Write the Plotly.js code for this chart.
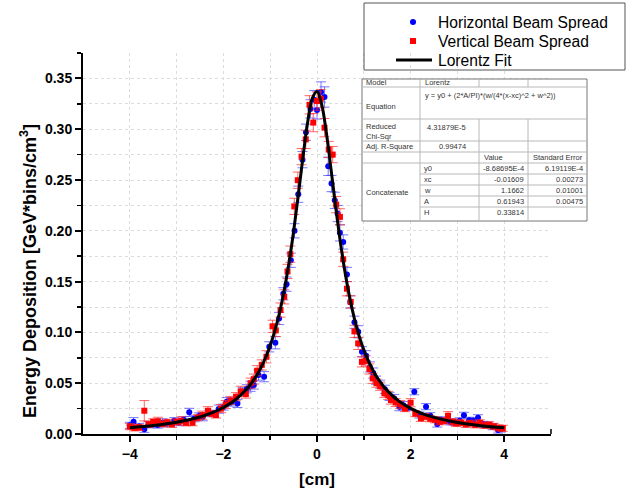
<!DOCTYPE html>
<html><head><meta charset="utf-8">
<script src="https://cdn.plot.ly/plotly-3.0.1.min.js"></script>
<style>body{margin:0;background:#fff}#chart{width:641px;height:496px}</style>
</head><body><div id="chart"></div>
<script>
// ---- Data ----
const hX = [-4.0,-3.92,-3.8,-3.69,-3.6,-3.5,-3.4,-3.3,-3.2,-3.05,-2.95,-2.85,-2.73,-2.62,-2.52,-2.44,-2.3,-2.2,-2.1,-2.0,
  -1.93,-1.82,-1.7,-1.59,-1.5,-1.42,-1.35,-1.25,-1.13,-1.02,-0.89,-0.81,-0.72,-0.65,-0.56,-0.48,-0.40,-0.31,-0.235,-0.14,-0.06,
  0.0,0.086,0.16,0.24,0.31,0.38,0.44,0.49,0.56,0.64,0.71,0.80,0.88,0.96,1.05,1.13,1.20,1.26,1.35,1.45,1.55,1.65,1.76,1.85,1.95,
  2.08,2.19,2.33,2.42,2.57,2.65,2.75,2.85,2.95,3.05,3.14,3.25,3.34,3.44,3.55,3.65,3.75,3.87,3.93];
const hY = [0.0085,0.0121,0.0075,0.0046,0.0090,0.0095,0.0088,0.0110,0.0105,0.0131,0.0112,0.0140,0.0213,0.0150,0.0178,0.0170,0.0205,0.0200,0.0245,0.0265,
  0.0318,0.0315,0.0301,0.0416,0.0445,0.0470,0.0482,0.0580,0.0564,0.0858,0.0898,0.1137,0.1380,0.1475,0.1710,0.2000,0.2360,0.2700,0.2970,0.3200,0.3290,
  0.3190,0.3366,0.3317,0.2635,0.2465,0.2300,0.2170,0.1980,0.1890,0.1570,0.1300,0.1100,0.1006,0.0810,0.0770,0.0660,0.0600,0.0530,0.0490,0.0440,0.0370,0.0350,0.0269,0.0280,0.0260,
  0.0416,0.0187,0.0269,0.0180,0.0098,0.0140,0.0130,0.0120,0.0115,0.0130,0.0184,0.0135,0.0130,0.0160,0.0095,0.0090,0.0072,0.0039,0.0050];
const hErr = [0.003,0.004,0.003,0.003,0.003,0.003,0.003,0.004,0.003,0.003,0.003,0.003,0.004,0.003,0.003,0.004,0.003,0.003,0.004,0.003,
  0.004,0.004,0.004,0.004,0.004,0.005,0.004,0.005,0.005,0.005,0.006,0.006,0.006,0.007,0.007,0.007,0.008,0.008,0.008,0.009,0.009,
  0.009,0.010,0.010,0.009,0.008,0.008,0.008,0.008,0.007,0.007,0.006,0.006,0.006,0.005,0.005,0.005,0.005,0.004,0.004,0.004,0.004,0.004,0.004,0.004,0.003,
  0.003,0.003,0.003,0.003,0.003,0.003,0.003,0.003,0.003,0.003,0.003,0.003,0.003,0.003,0.003,0.003,0.003,0.003,0.003];

const vX = [-4.0,-3.9,-3.8,-3.69,-3.6,-3.5,-3.4,-3.3,-3.2,-3.1,-3.0,-2.9,-2.8,-2.66,-2.55,-2.45,-2.33,-2.25,-2.16,-2.05,
  -1.95,-1.85,-1.73,-1.63,-1.52,-1.42,-1.35,-1.28,-1.18,-1.08,-0.95,-0.88,-0.78,-0.70,-0.63,-0.57,-0.485,-0.41,-0.33,-0.24,-0.16,-0.08,
  0.0,0.08,0.16,0.25,0.335,0.41,0.49,0.56,0.64,0.72,0.80,0.88,0.96,1.04,1.12,1.19,1.27,1.35,1.44,1.52,1.58,1.68,1.78,1.88,
  2.0,2.1,2.22,2.32,2.42,2.52,2.62,2.72,2.80,2.90,2.97,3.08,3.18,3.28,3.38,3.48,3.58,3.68,3.78,3.88,3.97];
const vY = [0.0072,0.0060,0.0065,0.0229,0.0095,0.0120,0.0125,0.0100,0.0115,0.0095,0.0120,0.0130,0.0110,0.0111,0.0160,0.0185,0.0229,0.0200,0.0187,0.0250,
  0.0290,0.0330,0.0367,0.0420,0.0393,0.0500,0.0540,0.0623,0.0680,0.0760,0.1060,0.1020,0.1220,0.1350,0.1600,0.1770,0.2240,0.2498,0.2730,0.2900,0.3240,0.3065,
  0.3277,0.3300,0.3015,0.2800,0.2750,0.2258,0.2137,0.1720,0.1430,0.1300,0.1010,0.0892,0.0710,0.0720,0.0640,0.0548,0.0500,0.0470,0.0400,0.0380,0.0334,0.0310,0.0290,0.0250,
  0.0308,0.0200,0.0154,0.0170,0.0150,0.0140,0.0120,0.0130,0.0180,0.0120,0.0105,0.0110,0.0095,0.0105,0.0090,0.0110,0.0085,0.0090,0.0075,0.0060,0.0056];
const vErr = [0.003,0.003,0.003,0.010,0.003,0.003,0.004,0.003,0.003,0.003,0.003,0.004,0.003,0.003,0.003,0.004,0.004,0.003,0.003,0.004,
  0.004,0.004,0.004,0.005,0.004,0.005,0.005,0.005,0.005,0.006,0.006,0.006,0.007,0.007,0.007,0.008,0.008,0.008,0.008,0.009,0.009,0.009,
  0.009,0.009,0.009,0.008,0.008,0.008,0.008,0.007,0.007,0.006,0.006,0.006,0.005,0.005,0.005,0.005,0.004,0.004,0.004,0.004,0.004,0.004,0.004,0.003,
  0.004,0.003,0.003,0.003,0.003,0.003,0.003,0.003,0.004,0.003,0.003,0.003,0.003,0.003,0.003,0.003,0.003,0.003,0.003,0.003,0.003];

// Lorentz fit curve values (from the fit parameters shown in the table)
const fitX = [-4,-3.5,-3,-2.5,-2.25,-2,-1.75,-1.5,-1.4,-1.3,-1.2,-1.1,-1,-0.9,-0.8,-0.7,-0.6,-0.5,-0.4,-0.3,-0.2,-0.1,
  0,0.1,0.2,0.3,0.4,0.5,0.6,0.7,0.8,0.9,1,1.1,1.2,1.3,1.4,1.5,1.75,2,2.25,2.5,3,3.5,4];
const fitY = [0.00622,0.00834,0.01157,0.01679,0.02070,0.02602,0.03349,0.04436,0.05011,0.05695,0.06514,0.07502,0.08702,0.10166,0.11958,0.14147,0.16797,0.19936,0.23502,0.27247,0.30668,0.33041,
  0.33701,0.32438,0.29644,0.26047,0.22318,0.18874,0.15890,0.13395,0.11341,0.09663,0.08290,0.07164,0.06234,0.05462,0.04815,0.04270,0.03237,0.02523,0.02013,0.01637,0.01131,0.00818,0.00611];

const seriesNames = ["Horizontal Beam Spread", "Vertical Beam Spread", "Lorentz Fit"];
const xTitle = "[cm]";
const yTitle = "Energy Deposition [GeV*bins/cm<sup>3</sup>]";
const xMinorTicks = [-3,-1,1,3];

// Fit-result table contents
const tableTop = [["Model","Lorentz"],["Equation","y = y0 + (2*A/PI)*(w/(4*(x-xc)^2 + w^2))"],["Reduced<br>Chi-Sqr","4.31879E-5"],["Adj. R-Square","0.99474"]];
const paramNames = ["y0","xc","w","A","H"];
const paramValues = ["-8.68695E-4","-0.01609","1.1662","0.61943","0.33814"];
const paramErrors = ["6.19119E-4","0.00273","0.01001","0.00475",""];

// ---- Layout geometry (pixels) ----
const L=83, R=551, T=53, B=434;
const px = x => (x-L)/(R-L);
const py = y => (B-y)/(B-T);
const FONT = "Arial, 'Liberation Sans', sans-serif";

const traces = [
  {x:hX, y:hY, type:'scatter', mode:'markers', name:seriesNames[0],
   marker:{color:'#0000ff', size:6, symbol:'circle'},
   error_x:{type:'constant', value:0.05, color:'rgba(80,80,255,0.35)', thickness:3, width:0},
   error_y:{type:'data', array:hErr, visible:true, color:'rgba(60,60,255,0.7)', thickness:1, width:5}},
  {x:vX, y:vY, type:'scatter', mode:'markers', name:seriesNames[1],
   marker:{color:'#ff0000', size:6, symbol:'square'},
   error_x:{type:'constant', value:0.05, color:'rgba(255,80,80,0.35)', thickness:3, width:0},
   error_y:{type:'data', array:vErr, visible:true, color:'rgba(255,40,40,0.7)', thickness:1, width:5}},
  {x:fitX, y:fitY, type:'scatter', mode:'lines', name:seriesNames[2],
   line:{color:'#000', width:3, shape:'spline', smoothing:1}}
];

const shapes = [];
const annotations = [];
function seg(x0,y0,x1,y1,line){shapes.push({type:'line', xref:'paper', yref:'paper', x0:px(x0), y0:py(y0), x1:px(x1), y1:py(y1), line:line, layer:'above'});}
function txt(x,y,t,anchor,size,color){annotations.push({xref:'paper', yref:'paper', x:px(x), y:py(y), text:t, showarrow:false, align:'left', xanchor:anchor||'left', yanchor:'middle', font:{family:FONT, size:size||7.5, color:color||'#333'}});}

// Table
const tl = 362, tr = 587, c1 = 420, c2 = 479, c3 = 528, tt = 79, tb = 221;
const rowLines = [87,119,141,152,163];
const paramLines = [174,185,196,207];
const innerLine = {color:'#b8b8b8', width:1};
shapes.push({type:'rect', xref:'paper', yref:'paper', x0:px(tl), y0:py(tt), x1:px(tr), y1:py(tb), fillcolor:'#fff', line:{color:'#777', width:1}, layer:'above'});
rowLines.forEach(y=>seg(tl,y,tr,y,innerLine));
paramLines.forEach(y=>seg(c1,y,tr,y,innerLine));
seg(c1,tt,c1,tb,innerLine);
[c2,c3].forEach(x=>{seg(x,tt,x,87,innerLine); seg(x,119,x,tb,innerLine);});
txt(364,83,tableTop[0][0]); txt(423,83,tableTop[0][1]);
txt(423,95,tableTop[1][1]); txt(364,107,tableTop[1][0]);
txt(364,131,tableTop[2][0]); txt(468,127,tableTop[2][1],'right');
txt(364,146,tableTop[3][0]); txt(468,146,tableTop[3][1],'right');
txt(482,157,"Value"); txt(531,157,"Standard Error");
const rowY = [168.5,179.5,190.5,201.5,212.5];
paramNames.forEach((n,i)=>{txt(422,rowY[i],n); txt(526,rowY[i],paramValues[i],'right'); if(paramErrors[i]) txt(585,rowY[i],paramErrors[i],'right');});
txt(364,192,"Concatenate");

// Legend (drawn by hand to match the original box)
shapes.push({type:'rect', xref:'paper', yref:'paper', x0:px(364), y0:py(3), x1:px(625), y1:py(70), fillcolor:'rgba(0,0,0,0)', line:{color:'#555', width:1}, layer:'above'});
shapes.push({type:'circle', xref:'paper', yref:'paper', x0:px(410), x1:px(416), y0:py(25), y1:py(19), fillcolor:'#0000ff', line:{color:'#0000ff', width:0}, layer:'above'});
shapes.push({type:'rect', xref:'paper', yref:'paper', x0:px(410), x1:px(416), y0:py(44), y1:py(38), fillcolor:'#ff0000', line:{color:'#ff0000', width:0}, layer:'above'});
seg(396,60,432,60,{color:'#000', width:3});
seriesNames.forEach((n,i)=>txt(436,[22,41,60][i],n,'left',15.6,'#000'));

// Axis end caps (Origin style)
seg(R,B,R,B-5,{color:'#000', width:1.5});

// y-axis title
annotations.push({xref:'paper', yref:'paper', x:px(28), y:py(271), text:yTitle, textangle:-90, showarrow:false, xanchor:'center', yanchor:'middle', font:{family:FONT, size:18, color:'#000', weight:'bold'}});

const gridColor = '#dcdcdc';
const layout = {
  width:641, height:496,
  margin:{l:L, r:641-R, t:T, b:496-B},
  paper_bgcolor:'#fff', plot_bgcolor:'#fff',
  font:{family:FONT, color:'#000'},
  showlegend:false,
  xaxis:{range:[-5,5], dtick:2, tick0:0, ticks:'outside', ticklen:6, tickwidth:2, tickcolor:'#000',
    showline:true, linecolor:'#000', linewidth:2, zeroline:false, mirror:false,
    showgrid:true, gridcolor:gridColor, griddash:'dot', gridwidth:1,
    tickfont:{family:FONT, size:14, color:'#000', weight:'bold'},
    minor:{tickmode:'array', tickvals:xMinorTicks, ticks:'outside', ticklen:4, tickwidth:1.5, tickcolor:'#000', showgrid:true, gridcolor:gridColor, griddash:'dot'},
    title:{text:xTitle, font:{family:FONT, size:17, color:'#000', weight:'bold'}, standoff:12}},
  yaxis:{range:[0,0.375], dtick:0.05, tick0:0, tickformat:'.2f', ticks:'outside', ticklen:6, tickwidth:2, tickcolor:'#000',
    showline:true, linecolor:'#000', linewidth:2, zeroline:false, mirror:false,
    showgrid:true, gridcolor:gridColor, griddash:'dot', gridwidth:1,
    tickfont:{family:FONT, size:14, color:'#000', weight:'bold'},
    minor:{dtick:0.025, ticks:'outside', ticklen:4, tickwidth:1.5, tickcolor:'#000', showgrid:true, gridcolor:gridColor, griddash:'dot'}},
  shapes:shapes,
  annotations:annotations
};
Plotly.newPlot('chart', traces, layout, {displayModeBar:false, staticPlot:true});
</script></body></html>
